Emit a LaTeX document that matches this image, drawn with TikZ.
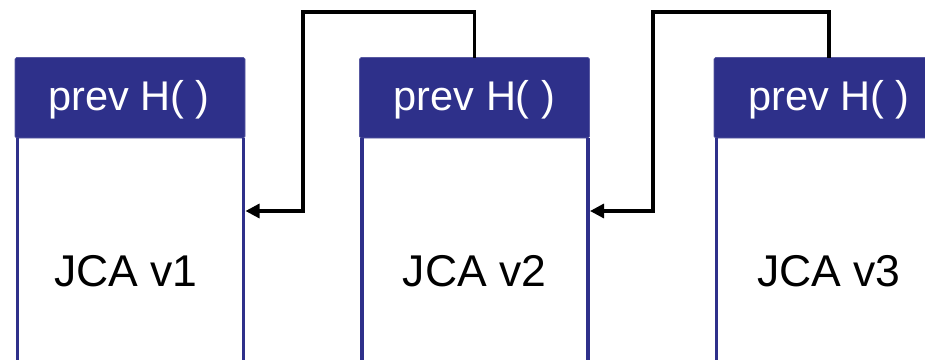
\documentclass[tikz,border=0pt]{standalone}
\usepackage{fontspec}
\setmainfont{Liberation Sans}
\usetikzlibrary{arrows.meta}
\definecolor{hdrblue}{RGB}{46,48,138}
\tikzset{
  header/.style={rectangle, fill=hdrblue, draw=hdrblue!80!white, line width=0.6pt, rounded corners=1.5pt,
    minimum width=230pt, minimum height=80.5pt, inner sep=0pt, outer sep=0pt},
  body/.style={rectangle, minimum width=230pt, minimum height=224pt, inner sep=0pt, outer sep=0pt, anchor=north},
  side/.style={draw=hdrblue, line width=3.5pt},
  htext/.style={text=white, font=\fontsize{41.5}{49}\selectfont, inner sep=0pt, anchor=base},
  btext/.style={text=black, font=\fontsize{44.5}{52}\selectfont, inner sep=0pt, anchor=base},
  conn/.style={draw=black, line width=3.2pt, -{Triangle[length=14pt,width=14pt]}}
}
\begin{document}
\begin{tikzpicture}[x=1pt,y=-1pt]
\useasboundingbox (0,0) rectangle (925,359);
\clip (0,0) rectangle (925,359);
% headers
\node[header] (h1) at (130,97.75) {};
\node[header] (h2) at (474.5,97.75) {};
\node[header] (h3) at (829,97.75) {};
% bodies
\node[body] (b1) at (h1.south) {};
\node[body] (b2) at (h2.south) {};
\node[body] (b3) at (h3.south) {};
\foreach \b in {b1,b2,b3}{
  \draw[side] ([xshift=2.5pt]\b.north west) -- ([xshift=2.5pt]\b.south west);
  \draw[side] ([xshift=-1.75pt]\b.north east) -- ([xshift=-1.75pt]\b.south east);
}
% texts
\node[htext] (p1) at ([xshift=-1pt,yshift=-13pt]h1.center) {prev H( )};
\node[htext] (p2) at ([yshift=-13pt]h2.center) {prev H( )};
\node[htext] (p3) at ([yshift=-13pt]h3.center) {prev H( )};
\node[btext] (t1) at ([xshift=-4pt,yshift=-148.5pt]b1.north) {JCA v1};
\node[btext] (t2) at ([yshift=-148.5pt]b2.north) {JCA v2};
\node[btext] (t3) at ([yshift=-148.5pt]b3.north) {JCA v3};
% connectors
\coordinate (k1) at (303,12);
\coordinate (k2) at (653,12);
\draw[conn] (h2.north) |- (k1) |- ([xshift=0.5pt,yshift=-73pt]b1.north east);
\draw[conn] (h3.north) |- (k2) |- ([xshift=0.5pt,yshift=-73pt]b2.north east);
\end{tikzpicture}
\end{document}
